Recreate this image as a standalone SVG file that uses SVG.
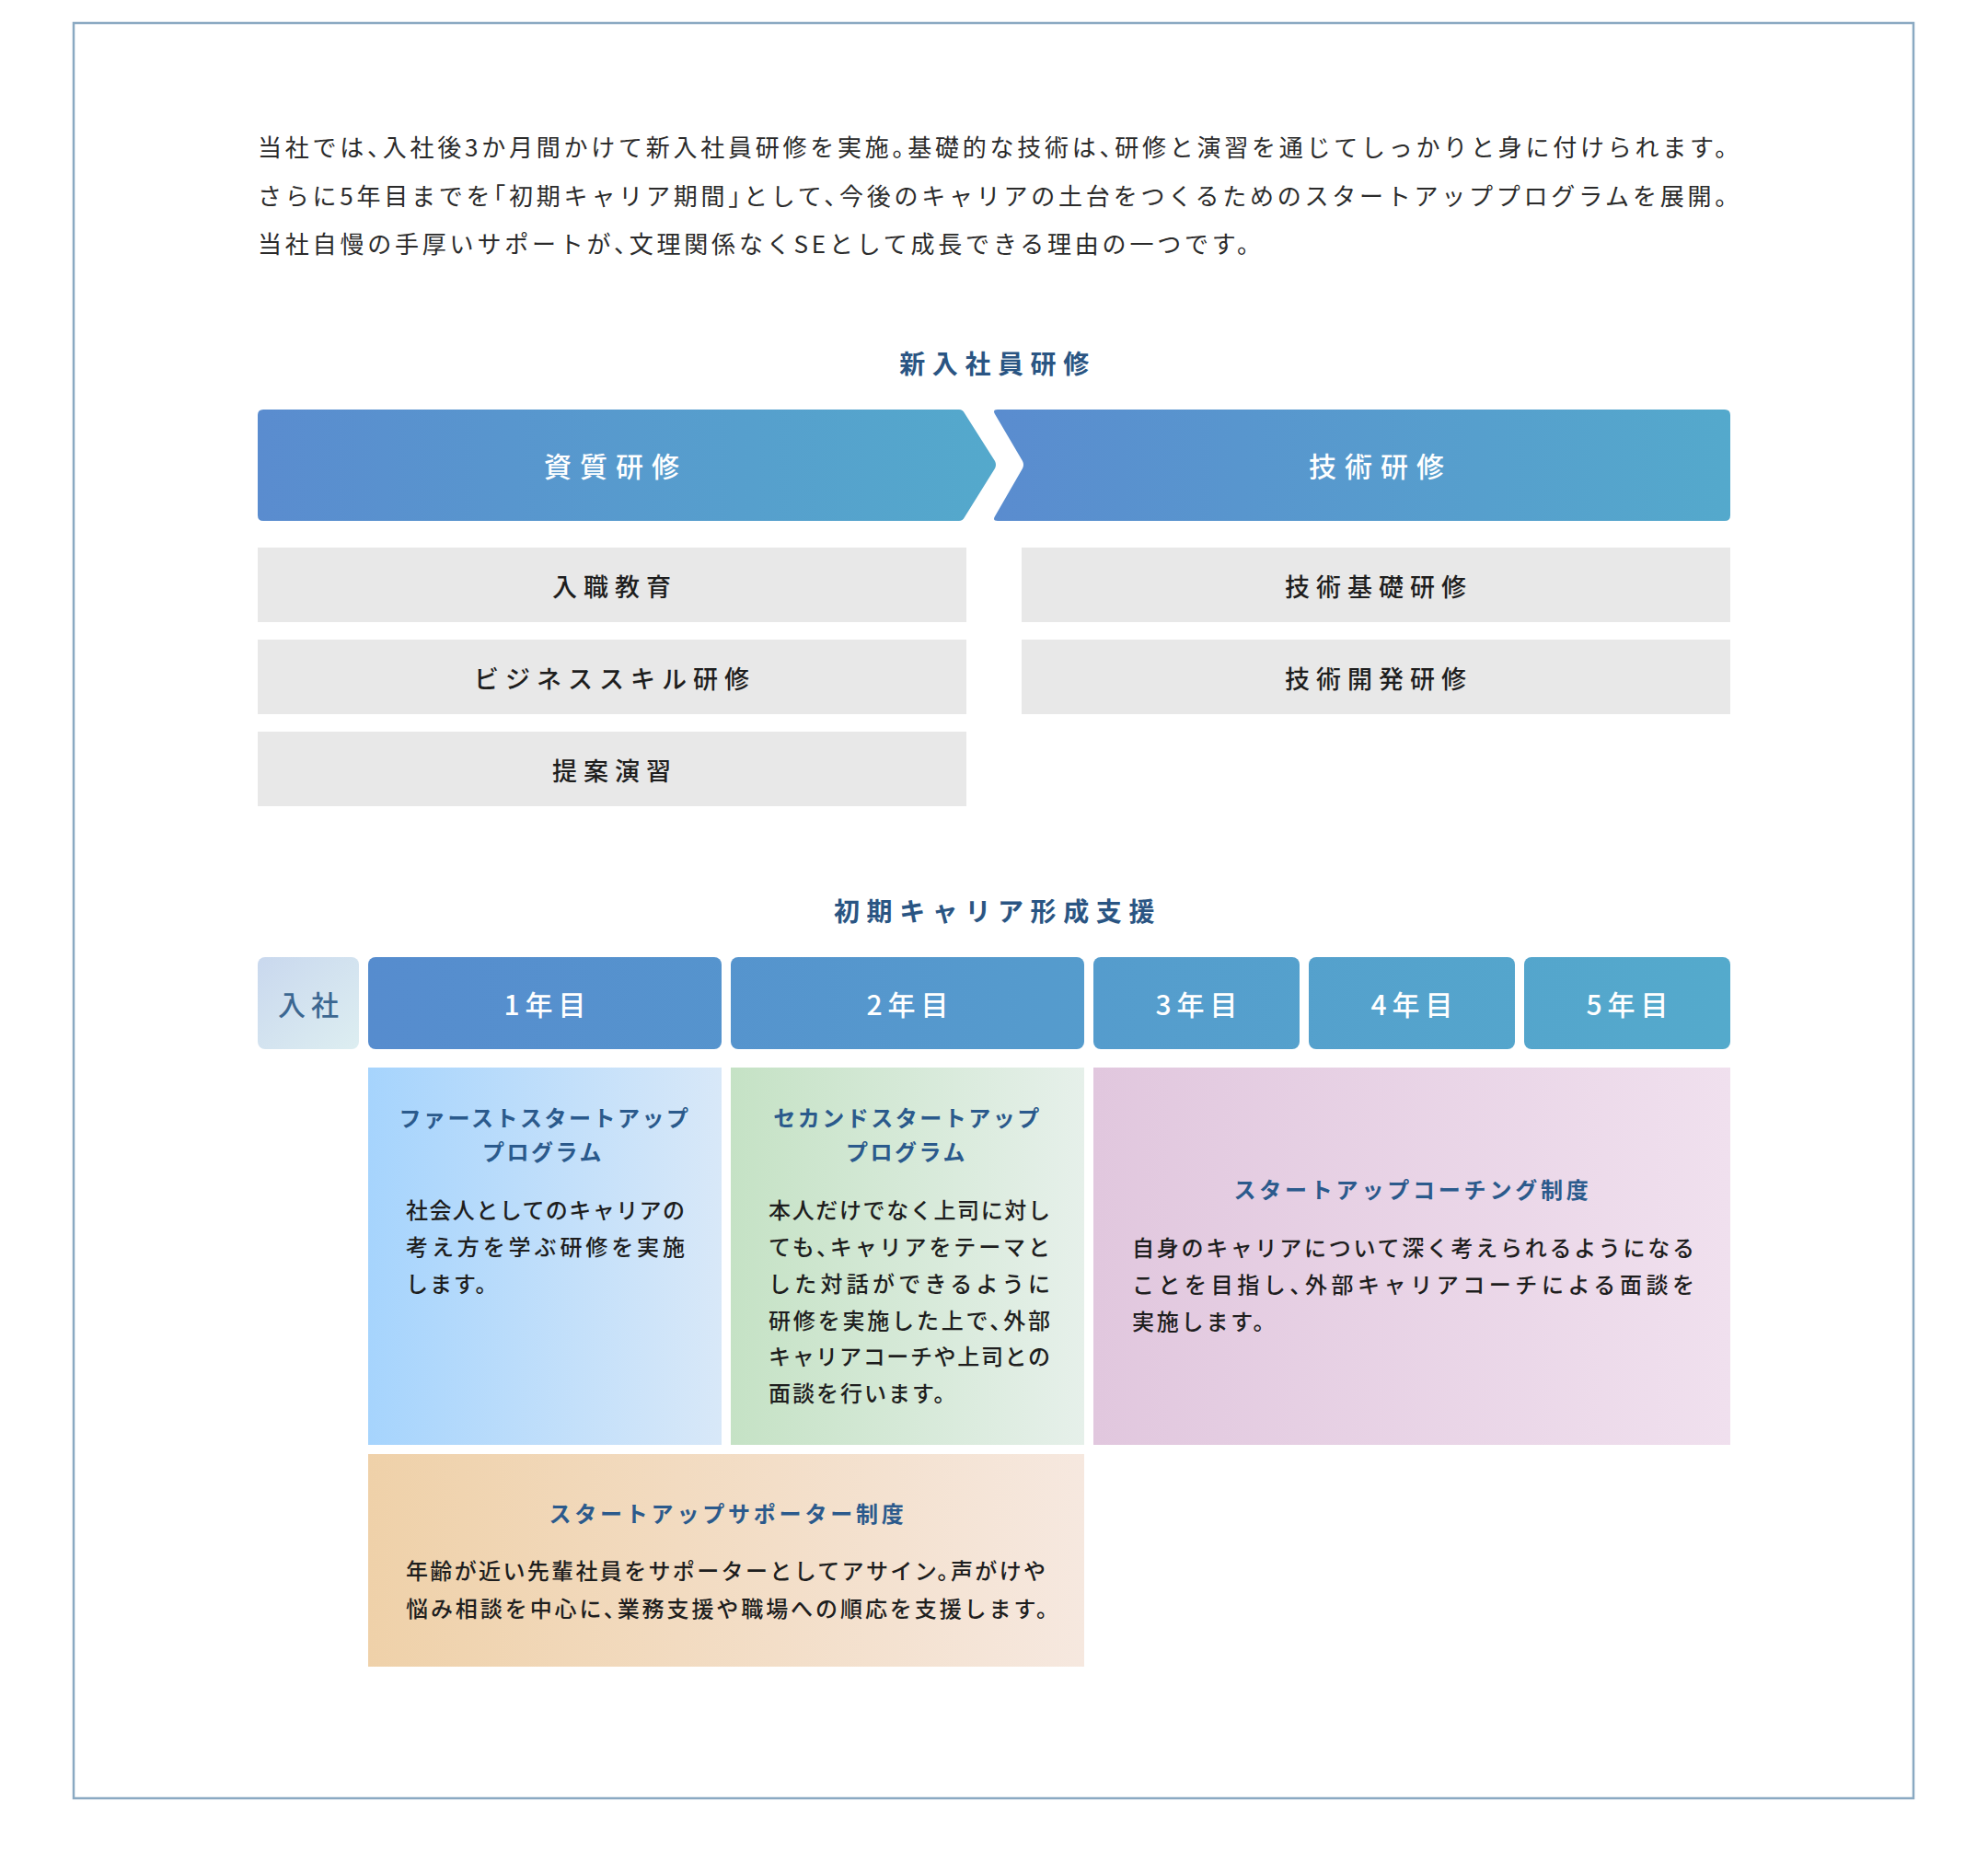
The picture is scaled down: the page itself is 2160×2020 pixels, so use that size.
<svg xmlns="http://www.w3.org/2000/svg" width="2160" height="2020" viewBox="0 0 2160 2020">
<defs>
<style>
text{font-family:"Noto Sans CJK JP","Noto Sans",sans-serif;dominant-baseline:central}
.intro{font-size:26px;letter-spacing:3.8px;fill:#2b2b2b;font-weight:400;font-feature-settings:"halt" 1}
.sec{font-size:28px;letter-spacing:7.6px;fill:#2a5583;font-weight:700;text-anchor:middle}
.ban{font-size:30px;letter-spacing:9px;fill:#ffffff;font-weight:500;text-anchor:middle}
.gl{font-size:27px;letter-spacing:7px;fill:#1e1e1e;font-weight:500;text-anchor:middle}
.yr{font-size:30px;letter-spacing:6px;fill:#ffffff;font-weight:500;text-anchor:middle}
.ttl{font-size:24px;letter-spacing:2.5px;fill:#2b5a8c;font-weight:700;text-anchor:middle}
.ttl2{font-size:24px;letter-spacing:3.8px;fill:#2b5a8c;font-weight:700;text-anchor:middle}
.body{font-size:24px;letter-spacing:2px;fill:#1e1e1e;font-weight:500;font-feature-settings:"halt" 1}
.gray{fill:#e8e8e8}
</style>
<linearGradient id="gBan" x1="0" y1="0" x2="1" y2="0">
<stop offset="0" stop-color="#5a8ccf"/><stop offset="1" stop-color="#54a9cc"/>
</linearGradient>
<linearGradient id="gYear" gradientUnits="userSpaceOnUse" x1="400" y1="0" x2="1880" y2="0">
<stop offset="0" stop-color="#568cce"/><stop offset="1" stop-color="#54aacc"/>
</linearGradient>
<linearGradient id="gJoin" x1="0" y1="0" x2="1" y2="1">
<stop offset="0" stop-color="#c9d8ee"/><stop offset="1" stop-color="#ddeef1"/>
</linearGradient>
<linearGradient id="gB1" x1="0" y1="0" x2="1" y2="0">
<stop offset="0" stop-color="#a6d4fd"/><stop offset="1" stop-color="#d8e8f8"/>
</linearGradient>
<linearGradient id="gB2" x1="0" y1="0" x2="1" y2="0">
<stop offset="0" stop-color="#c5e2c5"/><stop offset="1" stop-color="#e6f0ea"/>
</linearGradient>
<linearGradient id="gB3" x1="0" y1="0" x2="1" y2="0">
<stop offset="0" stop-color="#e1c7de"/><stop offset="1" stop-color="#f0e0ee"/>
</linearGradient>
<linearGradient id="gB4" x1="0" y1="0" x2="1" y2="0">
<stop offset="0" stop-color="#efd1a9"/><stop offset="1" stop-color="#f6e8df"/>
</linearGradient>
</defs>
<rect x="0" y="0" width="2160" height="2020" fill="#ffffff"/>
<rect id="frame" x="80" y="25" width="1999" height="1929" fill="none" stroke="#8aa9c2" stroke-width="2.5"/>

<g id="intro">
<text class="intro" x="280" y="158" textLength="1600" lengthAdjust="spacing">当社では、入社後3か月間かけて新入社員研修を実施。基礎的な技術は、研修と演習を通じてしっかりと身に付けられます。</text>
<text class="intro" x="280" y="211" textLength="1600" lengthAdjust="spacing">さらに5年目までを「初期キャリア期間」として、今後のキャリアの土台をつくるためのスタートアッププログラムを展開。</text>
<text class="intro" x="280" y="263">当社自慢の手厚いサポートが、文理関係なくSEとして成長できる理由の一つです。</text>
</g>

<g id="title-training"><text class="sec" x="1084" y="394">新入社員研修</text></g>

<g id="banner-shishitsu">
<path fill="url(#gBan)" d="M286,445 L1042,445 Q1046,445 1048,449 L1081,501 Q1083,505 1081,509 L1048,562 Q1046,566 1042,566 L286,566 Q280,566 280,560 L280,451 Q280,445 286,445 Z"/>
<text class="ban" x="669" y="505">資質研修</text>
</g>
<g id="banner-gijutsu">
<path fill="url(#gBan)" d="M1084,445 L1874,445 Q1880,445 1880,451 L1880,560 Q1880,566 1874,566 L1084,566 Q1078,566 1081,561 L1111,509 Q1113,505 1111,501 L1081,450 Q1078,445 1084,445 Z"/>
<text class="ban" x="1500" y="505">技術研修</text>
</g>

<g id="item-nyushoku"><rect class="gray" x="280" y="595" width="770" height="81"/><text class="gl" x="668" y="636">入職教育</text></g>
<g id="item-business"><rect class="gray" x="280" y="695" width="770" height="81"/><text class="gl" x="668" y="736">ビジネススキル研修</text></g>
<g id="item-teian"><rect class="gray" x="280" y="795" width="770" height="81"/><text class="gl" x="668" y="836">提案演習</text></g>
<g id="item-kiso"><rect class="gray" x="1110" y="595" width="770" height="81"/><text class="gl" x="1498" y="636">技術基礎研修</text></g>
<g id="item-kaihatsu"><rect class="gray" x="1110" y="695" width="770" height="81"/><text class="gl" x="1498" y="736">技術開発研修</text></g>

<g id="title-career"><text class="sec" x="1084" y="989">初期キャリア形成支援</text></g>

<g id="year-join"><rect x="280" y="1040" width="110" height="100" rx="8" fill="url(#gJoin)"/><text class="yr" x="338" y="1090" style="fill:#3c6791">入社</text></g>
<g id="year-1"><rect x="400" y="1040" width="384" height="100" rx="8" fill="url(#gYear)"/><text class="yr" x="595" y="1090">1年目</text></g>
<g id="year-2"><rect x="794" y="1040" width="384" height="100" rx="8" fill="url(#gYear)"/><text class="yr" x="989" y="1090">2年目</text></g>
<g id="year-3"><rect x="1188" y="1040" width="224" height="100" rx="8" fill="url(#gYear)"/><text class="yr" x="1303" y="1090">3年目</text></g>
<g id="year-4"><rect x="1422" y="1040" width="224" height="100" rx="8" fill="url(#gYear)"/><text class="yr" x="1537" y="1090">4年目</text></g>
<g id="year-5"><rect x="1656" y="1040" width="224" height="100" rx="8" fill="url(#gYear)"/><text class="yr" x="1771" y="1090">5年目</text></g>

<g id="box-first">
<rect x="400" y="1160" width="384" height="410" fill="url(#gB1)"/>
<text class="ttl" x="592" y="1213">ファーストスタートアップ</text>
<text class="ttl" x="590" y="1250">プログラム</text>
<text class="body" x="441" y="1313" textLength="305" lengthAdjust="spacing">社会人としてのキャリアの</text>
<text class="body" x="441" y="1353" textLength="305" lengthAdjust="spacing">考え方を学ぶ研修を実施</text>
<text class="body" x="441" y="1393">します。</text>
</g>

<g id="box-second">
<rect x="794" y="1160" width="384" height="410" fill="url(#gB2)"/>
<text class="ttl" x="986" y="1213">セカンドスタートアップ</text>
<text class="ttl" x="985" y="1250">プログラム</text>
<text class="body" x="835" y="1313" textLength="308" lengthAdjust="spacing">本人だけでなく上司に対し</text>
<text class="body" x="835" y="1353" textLength="308" lengthAdjust="spacing">ても、キャリアをテーマと</text>
<text class="body" x="835" y="1393" textLength="308" lengthAdjust="spacing">した対話ができるように</text>
<text class="body" x="835" y="1433" textLength="308" lengthAdjust="spacing">研修を実施した上で、外部</text>
<text class="body" x="835" y="1472" textLength="308" lengthAdjust="spacing">キャリアコーチや上司との</text>
<text class="body" x="835" y="1512">面談を行います。</text>
</g>

<g id="box-coaching">
<rect x="1188" y="1160" width="692" height="410" fill="url(#gB3)"/>
<text class="ttl2" x="1535" y="1291">スタートアップコーチング制度</text>
<text class="body" x="1230" y="1354" textLength="613" lengthAdjust="spacing">自身のキャリアについて深く考えられるようになる</text>
<text class="body" x="1230" y="1394" textLength="613" lengthAdjust="spacing">ことを目指し、外部キャリアコーチによる面談を</text>
<text class="body" x="1230" y="1434" style="letter-spacing:2.8px">実施します。</text>
</g>

<g id="box-supporter">
<rect x="400" y="1580" width="778" height="231" fill="url(#gB4)"/>
<text class="ttl2" x="791" y="1643">スタートアップサポーター制度</text>
<text class="body" x="441" y="1705" textLength="697" lengthAdjust="spacing">年齢が近い先輩社員をサポーターとしてアサイン。声がけや</text>
<text class="body" x="441" y="1746" textLength="699" lengthAdjust="spacing">悩み相談を中心に、業務支援や職場への順応を支援します。</text>
</g>

<g id="connectors"></g>
</svg>
